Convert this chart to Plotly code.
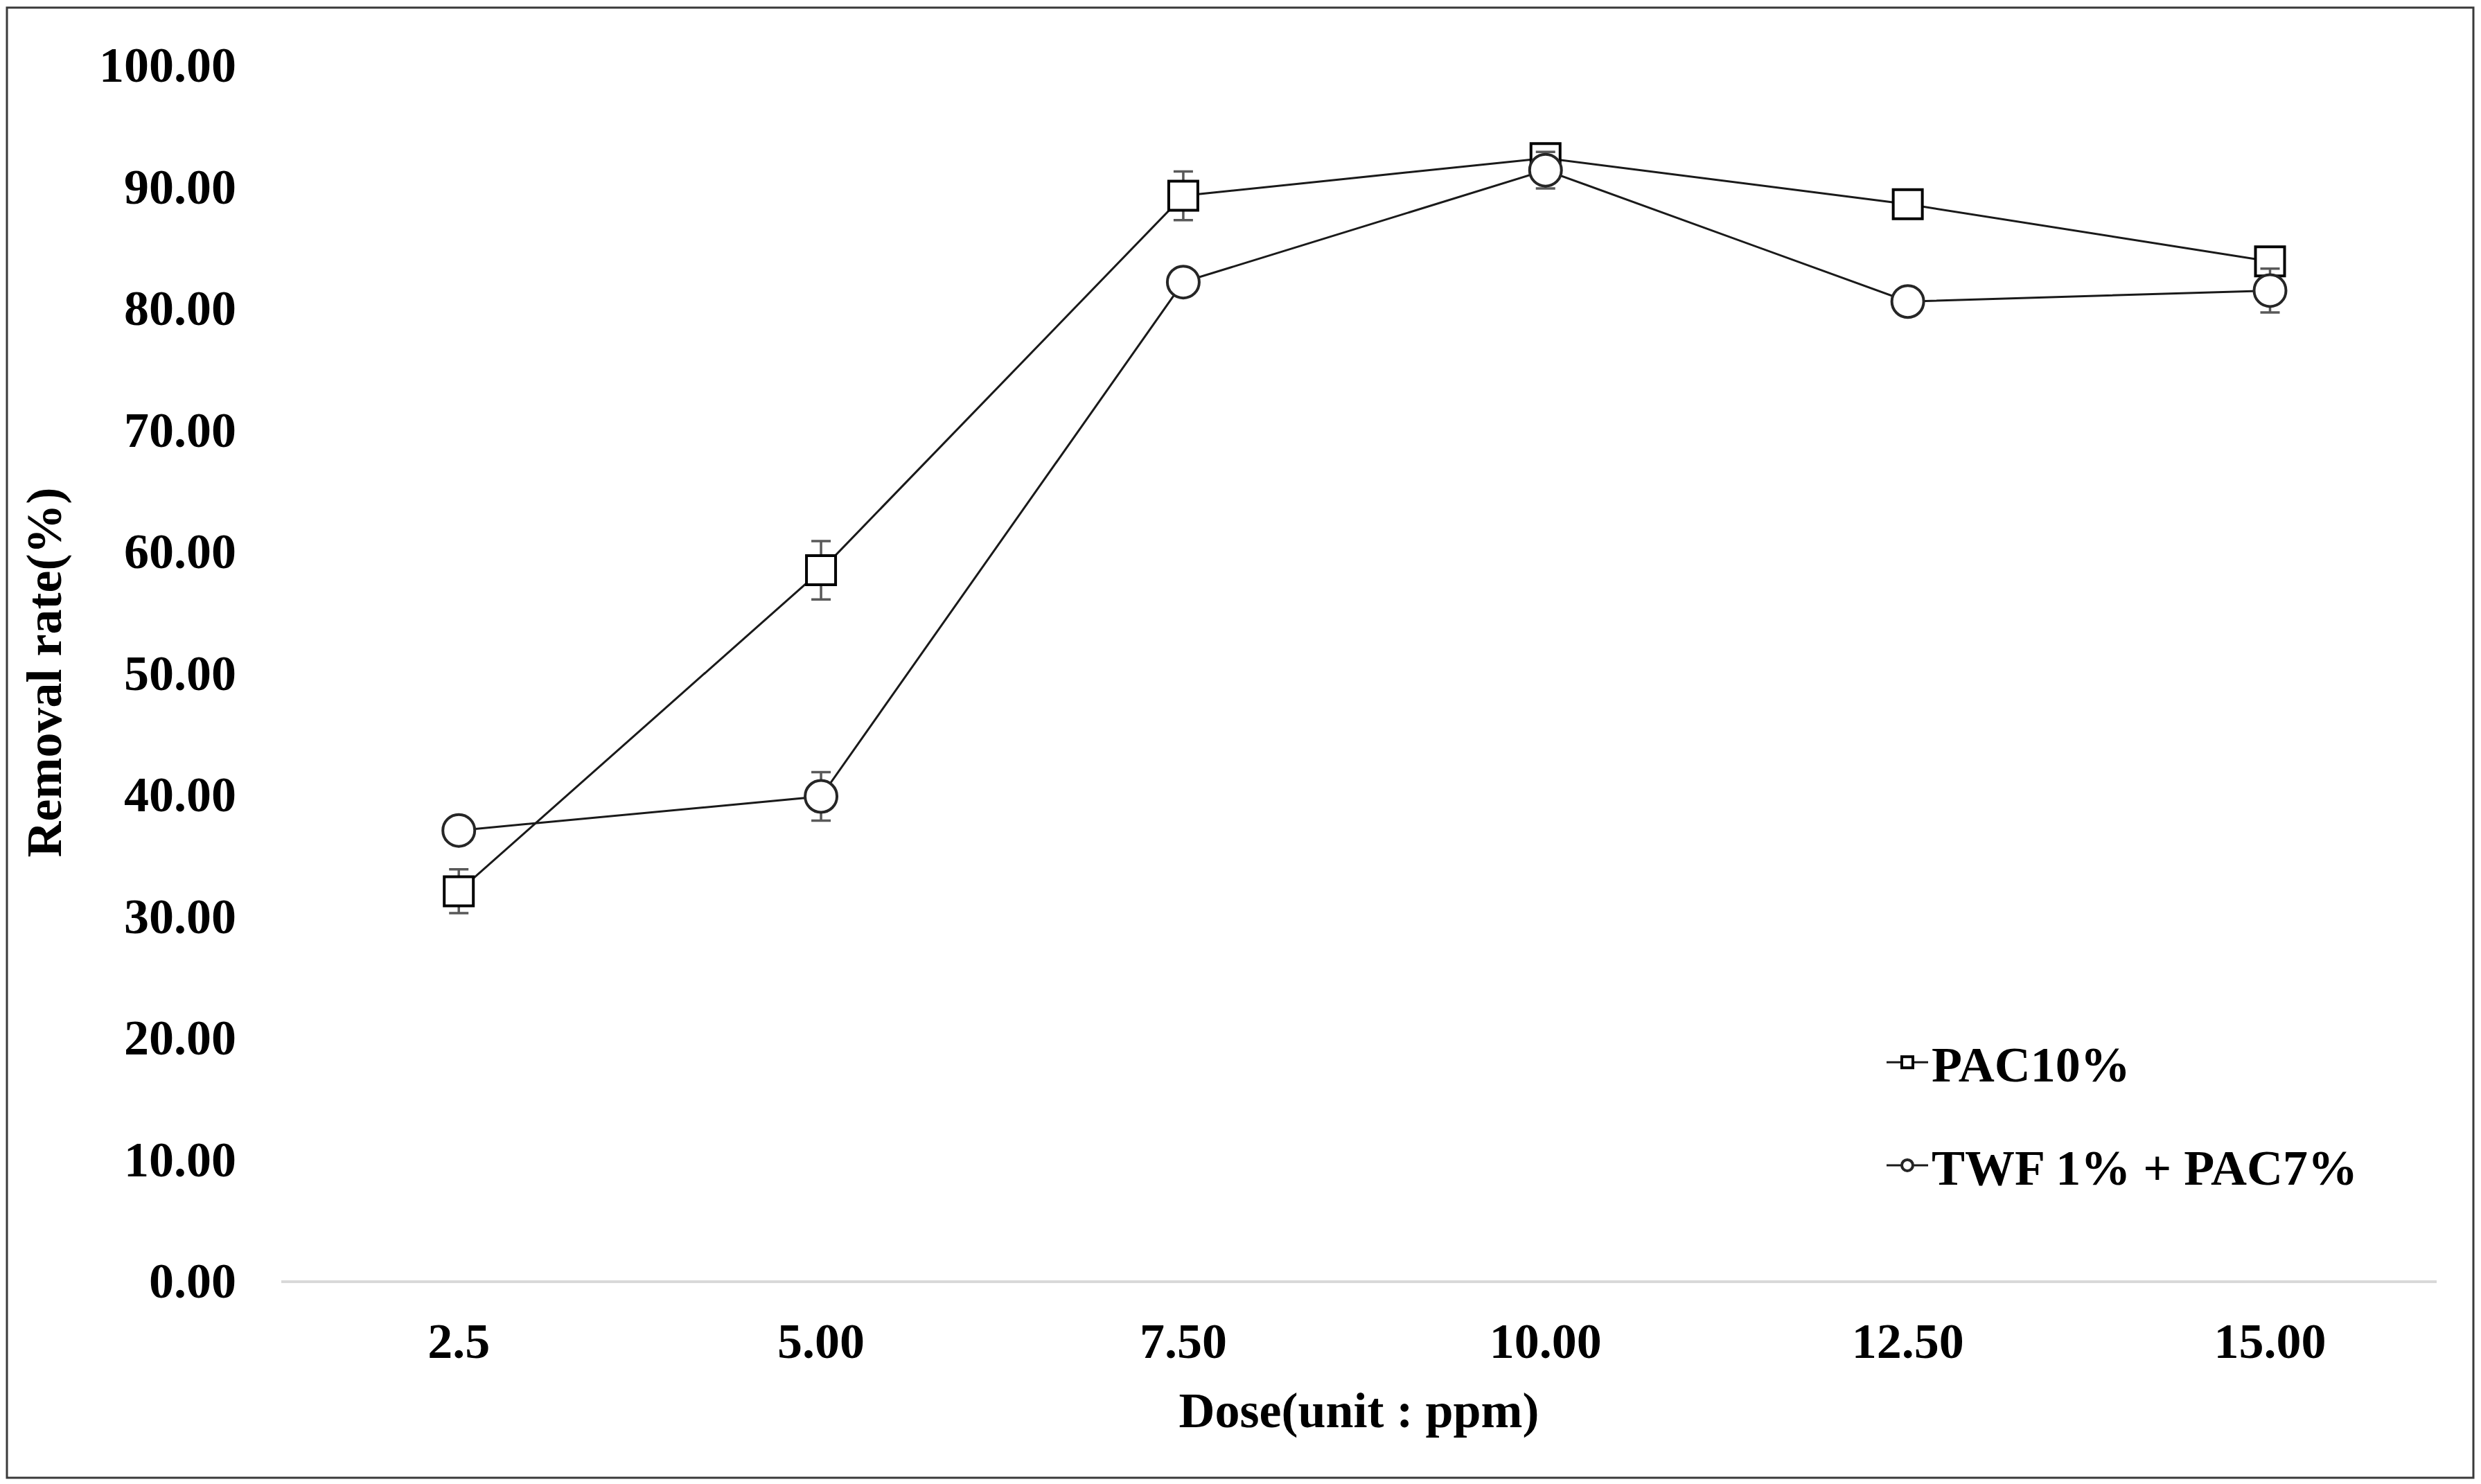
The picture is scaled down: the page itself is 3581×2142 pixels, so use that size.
import plotly.graph_objects as go

doses = ["2.5", "5.00", "7.50", "10.00", "12.50", "15.00"]
pac10 = [32.0, 58.4, 89.2, 92.3, 88.5, 83.8]
pac10_err = [1.8, 2.4, 2.0, 1.0, 0.8, 0.8]
twf_pac7 = [37.0, 39.8, 82.1, 91.3, 80.5, 81.4]
twf_pac7_err = [0.5, 2.0, 1.0, 1.5, 0.8, 1.8]
y_ticks = [0, 10, 20, 30, 40, 50, 60, 70, 80, 90, 100]

FONT = "Liberation Serif"
W, H = 3581, 2142
L, R, T, B = 406, 64, 93, 294
pw, ph = W - L - R, H - T - B

fig = go.Figure()
fig.add_trace(go.Scatter(
    x=doses, y=pac10, name="PAC10%", mode="lines+markers",
    legendgroup="a",
    line=dict(color="#1a1a1a", width=3),
    marker=dict(symbol="square", size=42, color="white",
                line=dict(color="#000000", width=4)),
    error_y=dict(type="data", array=pac10_err, visible=True,
                 color="#595959", thickness=3.5, width=14),
))
fig.add_trace(go.Scatter(
    x=doses, y=twf_pac7, name="TWF 1% + PAC7%", mode="lines+markers",
    legendgroup="b",
    line=dict(color="#1a1a1a", width=3),
    marker=dict(symbol="circle", size=46, color="white",
                line=dict(color="#262626", width=4)),
    error_y=dict(type="data", array=twf_pac7_err, visible=True,
                 color="#595959", thickness=3.5, width=14),
))

def px_x(p):
    return (p - L) / pw

def px_y(p):
    return (H - B - p) / ph

fig.add_shape(type="rect", xref="paper", yref="paper",
              x0=px_x(10), x1=px_x(3570), y0=px_y(2133), y1=px_y(11),
              line=dict(color="#3a3a3a", width=3), fillcolor="rgba(0,0,0,0)",
              layer="below")

fig.update_layout(
    width=W, height=H,
    margin=dict(l=L, r=R, t=T, b=B, autoexpand=False),
    paper_bgcolor="white", plot_bgcolor="white",
    font=dict(family=FONT, size=72, color="#000000", weight="bold"),
    showlegend=True,
    legend=dict(x=px_x(2718), y=px_y(1480), xanchor="left", yanchor="top",
                bgcolor="rgba(0,0,0,0)", tracegroupgap=52,
                traceorder="grouped",
                font=dict(family=FONT, size=72, color="#000000", weight="bold"),
                itemwidth=60),
    xaxis=dict(
        type="category", range=[-0.49, 5.46], showgrid=False, zeroline=False,
        showline=True, linecolor="#d9d9d9", linewidth=4,
        ticks="", tickfont=dict(family=FONT, size=72, weight="bold"),
        ticklabelstandoff=22,
        title=dict(text="Dose(unit : ppm)", standoff=35,
                   font=dict(family=FONT, size=72, weight="bold")),
        automargin=False,
    ),
    yaxis=dict(
        range=[0, 100], tickvals=y_ticks, tickformat=".2f",
        showgrid=False, zeroline=False, showline=False, ticks="",
        tickfont=dict(family=FONT, size=72, weight="bold"),
        ticklabelstandoff=64,
        title=dict(text="Removal rate(%)", standoff=30,
                   font=dict(family=FONT, size=72, weight="bold")),
        automargin=False,
    ),
)

fig.write_html("out.html")
